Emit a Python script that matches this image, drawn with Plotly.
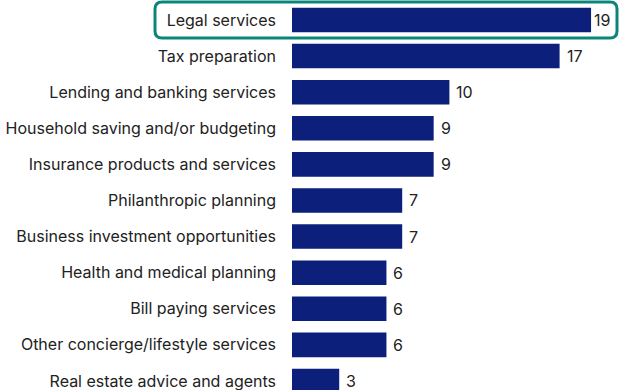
import plotly.graph_objects as go

# Share of respondents (%) by service
services = [
    "Legal services",
    "Tax preparation",
    "Lending and banking services",
    "Household saving and/or budgeting",
    "Insurance products and services",
    "Philanthropic planning",
    "Business investment opportunities",
    "Health and medical planning",
    "Bill paying services",
    "Other concierge/lifestyle services",
    "Real estate advice and agents",
]
shares = [19, 17, 10, 9, 9, 7, 7, 6, 6, 6, 3]

BAR_COLOR = "#0b1f7b"
TEXT_COLOR = "#222222"
HIGHLIGHT = "#0b8579"
FONT = "Inter, Liberation Sans, Arial, sans-serif"

fig = go.Figure(
    go.Bar(
        x=shares,
        y=services,
        orientation="h",
        marker=dict(color=BAR_COLOR, line=dict(width=0)),
        width=0.68,
        hoverinfo="skip",
    )
)

# Value labels just to the right of each bar
for i, (name, v) in enumerate(zip(services, shares)):
    fig.add_annotation(
        x=v, y=name, xref="x", yref="y",
        text=str(v), showarrow=False,
        xanchor="left", yanchor="middle",
        xshift=1 if i == 0 else 5,
        font=dict(size=16, color=TEXT_COLOR, family=FONT),
    )

# Rounded outline around the highlighted first row (pixel offsets from its anchor)
W_LEFT, W_RIGHT, H, R = -137, 325, 18, 7
path = (
    f"M {W_LEFT + R},{H} L {W_RIGHT - R},{H} Q {W_RIGHT},{H} {W_RIGHT},{H - R} "
    f"L {W_RIGHT},{-H + R} Q {W_RIGHT},{-H} {W_RIGHT - R},{-H} "
    f"L {W_LEFT + R},{-H} Q {W_LEFT},{-H} {W_LEFT},{-H + R} "
    f"L {W_LEFT},{H - R} Q {W_LEFT},{H} {W_LEFT + R},{H} Z"
)

y_top, y_bottom = -0.554, 10.25
first_row_paper = 1 - (0 - y_top) / (y_bottom - y_top)

fig.add_shape(
    type="path",
    path=path,
    xref="paper", yref="paper",
    xsizemode="pixel", ysizemode="pixel",
    xanchor=0, yanchor=first_row_paper,
    line=dict(color=HIGHLIGHT, width=3),
    fillcolor="rgba(0,0,0,0)",
    layer="above",
)

fig.update_layout(
    width=621, height=390,
    margin=dict(l=292, r=6, t=0, b=0),
    paper_bgcolor="white",
    plot_bgcolor="white",
    showlegend=False,
    font=dict(family=FONT, size=16, color=TEXT_COLOR),
    xaxis=dict(
        range=[0, 20.52], visible=False, fixedrange=True,
    ),
    yaxis=dict(
        type="category",
        categoryorder="array", categoryarray=services,
        range=[y_bottom, y_top],
        showgrid=False, zeroline=False, showline=False,
        ticks="", ticklabelstandoff=15,
        tickfont=dict(size=16, color=TEXT_COLOR, family=FONT),
        fixedrange=True,
    ),
)

fig.write_html("out.html")
